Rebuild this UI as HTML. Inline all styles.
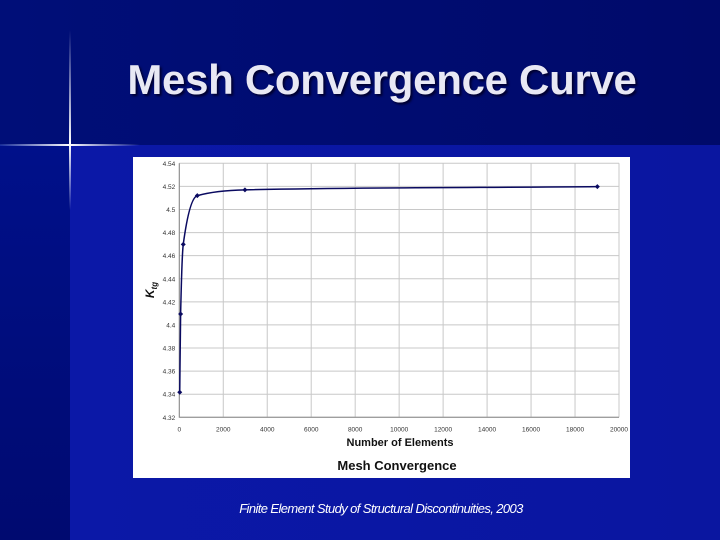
<!DOCTYPE html>
<html><head><meta charset="utf-8"><style>
html,body{margin:0;padding:0}
body{width:720px;height:540px;overflow:hidden;position:relative;background:#0a14a4;font-family:"Liberation Sans",sans-serif}
.abs{position:absolute}
</style></head><body>
<div class="abs" style="left:0;top:0;width:720px;height:540px;background:linear-gradient(90deg,#0b18a8 0%,#0a16a0 100%)"></div>
<div class="abs" style="left:0;top:145px;width:70px;height:395px;background:linear-gradient(180deg,#00108a,#000a70)"></div>
<div class="abs" style="left:0;top:0;width:720px;height:145px;background:linear-gradient(90deg,#000e78 0%,#000a6a 100%)"></div>
<div class="abs" style="left:0;top:144px;width:140px;height:2px;background:linear-gradient(90deg,rgba(120,160,255,0.2),#fff 50%,rgba(120,160,255,0))"></div>
<div class="abs" style="left:69px;top:30px;width:2px;height:180px;background:linear-gradient(180deg,rgba(120,160,255,0),#fff 63%,rgba(120,160,255,0))"></div>
<div class="abs" style="left:82px;top:56px;width:600px;text-align:center;color:#e8e8f4;font-size:42px;font-weight:bold;letter-spacing:-0.3px;text-shadow:2px 2px 2px #000030">Mesh Convergence Curve</div>
<svg class="abs" style="left:0;top:0" width="720" height="540">
<rect x="133" y="157" width="497" height="321" fill="#fff"/>
<g id="grid"></g><g id="axes"></g><g id="series"></g>
<text x="400" y="446" text-anchor="middle" font-size="11" font-weight="bold" fill="#111">Number of Elements</text>
<text x="397" y="470" text-anchor="middle" font-size="13" font-weight="bold" fill="#111">Mesh Convergence</text>
<text transform="translate(154,290) rotate(-90)" text-anchor="middle" font-size="12" font-weight="bold" font-style="italic" fill="#111">K<tspan font-size="8" dy="3">tg</tspan></text>
</svg>
<div class="abs" style="left:0;top:501px;width:762px;text-align:center;color:#fff;font-size:13px;font-style:italic;letter-spacing:-0.6px"><i>Finite Element Study of Structural Discontinuities</i>, 2003</div>
<script>
const xTicks=[0,2000,4000,6000,8000,10000,12000,14000,16000,18000,20000];
const yTicks=[4.32,4.34,4.36,4.38,4.4,4.42,4.44,4.46,4.48,4.5,4.52,4.54];
const yTickLabels=["4.32","4.34","4.36","4.38","4.4","4.42","4.44","4.46","4.48","4.5","4.52","4.54"];
const elements=[20,60,180,820,2985,19015];
const ktg=[4.3417,4.4095,4.4698,4.512,4.517,4.5198];
const NS='http://www.w3.org/2000/svg';
const X0=179.3,X1=619,Y0=417.3,Y1=163.3;
function sx(v){return X0+(v-0)/(20000-0)*(X1-X0);}
function sy(v){return Y0-(v-4.32)/(4.54-4.32)*(Y0-Y1);}
function mk(tag,attrs,parent){const e=document.createElementNS(NS,tag);for(const k in attrs)e.setAttribute(k,attrs[k]);parent.appendChild(e);return e;}
const grid=document.getElementById('grid'),axes=document.getElementById('axes'),ser=document.getElementById('series');
xTicks.forEach(t=>{const l=mk('line',{x1:sx(t),x2:sx(t),y1:Y1,y2:Y0,stroke:'#c8c8c8','stroke-width':1},grid);

const tx=mk('text',{x:sx(t),y:Y0+14,'text-anchor':'middle','font-size':6.5,fill:'#333'},axes);tx.textContent=t;
});
yTicks.forEach((t,i)=>{const l=mk('line',{x1:X0,x2:X1,y1:sy(t),y2:sy(t),stroke:'#c8c8c8','stroke-width':1},grid);

const tx=mk('text',{x:X0-4,y:sy(t)+2.5,'text-anchor':'end','font-size':6.5,fill:'#333'},axes);tx.textContent=yTickLabels[i];
});
const ax=mk('path',{d:`M${X0},${Y1}V${Y0}H${X1}`,stroke:'#888',fill:'none','stroke-width':1},axes);

const pts=elements.map((e,i)=>[sx(e),sy(ktg[i])]);
// monotone cubic (Fritsch-Carlson)
const n=pts.length,dx=[],sl=[],m=[];
for(let i=0;i<n-1;i++){dx[i]=pts[i+1][0]-pts[i][0];sl[i]=(pts[i+1][1]-pts[i][1])/dx[i];}
m[0]=sl[0];m[n-1]=sl[n-2];
for(let i=1;i<n-1;i++){if(sl[i-1]*sl[i]<=0)m[i]=0;else{const w1=2*dx[i]+dx[i-1],w2=dx[i]+2*dx[i-1];m[i]=(w1+w2)/(w1/sl[i-1]+w2/sl[i]);}}
let d=`M${pts[0][0]},${pts[0][1]}`;
for(let i=0;i<n-1;i++){const h=dx[i]/3;
d+=` C${pts[i][0]+h},${pts[i][1]+m[i]*h} ${pts[i+1][0]-h},${pts[i+1][1]-m[i+1]*h} ${pts[i+1][0]},${pts[i+1][1]}`;}
const ln=mk('path',{d:d,stroke:'#0a0a60',fill:'none','stroke-width':1.5},ser);

pts.forEach(p=>{const mkr=mk('path',{d:`M${p[0]},${p[1]-2.5}L${p[0]+2.5},${p[1]}L${p[0]},${p[1]+2.5}L${p[0]-2.5},${p[1]}Z`,fill:'#0a0a60'},ser);
});
</script>
</body></html>
